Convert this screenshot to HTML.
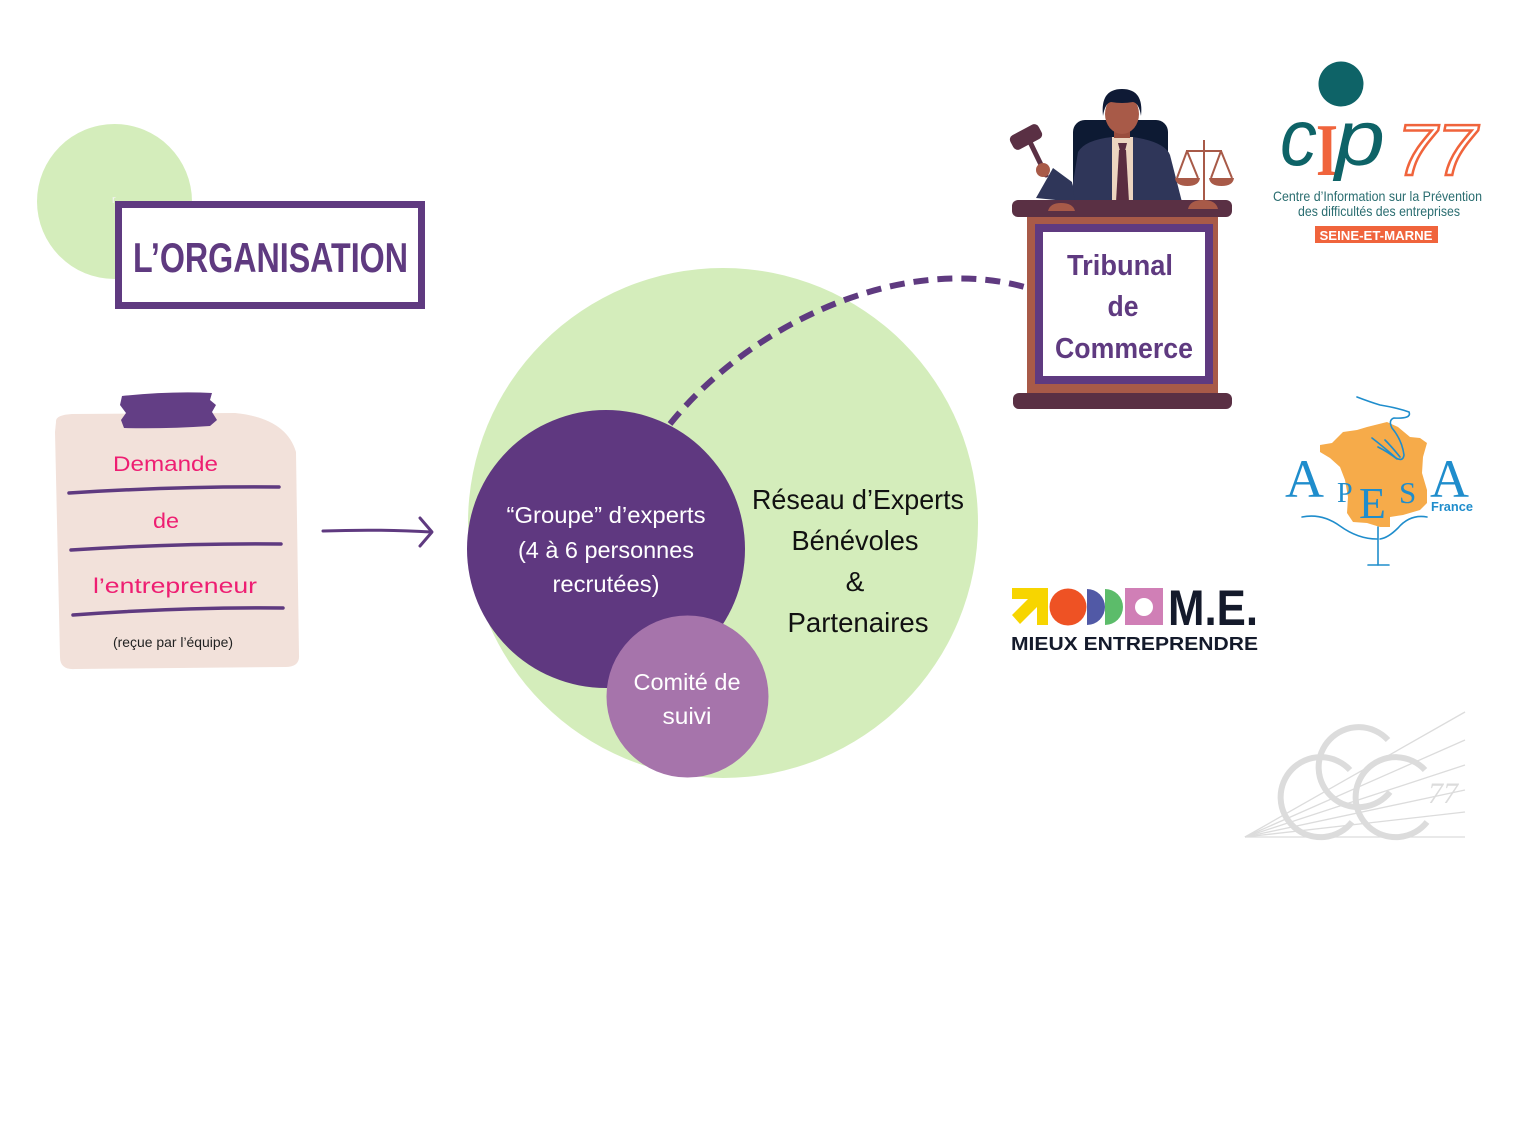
<!DOCTYPE html>
<html>
<head>
<meta charset="utf-8">
<style>
html,body{margin:0;padding:0;background:#fff;}
svg{display:block;}
text{font-family:"Liberation Sans",sans-serif;}
</style>
</head>
<body>
<svg width="1520" height="1122" viewBox="0 0 1520 1122" xmlns="http://www.w3.org/2000/svg">
<rect width="1520" height="1122" fill="#fff"/>

<!-- top-left green circle + title -->
<circle cx="114.5" cy="201.5" r="77.5" fill="#d4edbb"/>
<text x="112" y="203" font-size="11" fill="#f4f4f4">r</text>
<rect x="118.5" y="204.5" width="303" height="101" fill="#fff" stroke="#5f3a80" stroke-width="7"/>
<text x="133" y="272" font-size="42" font-weight="bold" fill="#5f3a80" textLength="275" lengthAdjust="spacingAndGlyphs">L’ORGANISATION</text>

<!-- note card -->
<path d="M56 422 Q55 415 72 414 L235 413 Q286 418 296 452 L299 655 Q300 667 285 667 L75 669 Q60 670 60 657 L55 432 Z" fill="#f2e1da"/>
<path d="M122 396 Q170 391 212 393 L210 400 L216 405 L212 412 L217 420 L210 426 Q165 429 124 428 L121 420 L126 413 L120 405 Z" fill="#633e85"/>
<text x="113" y="471" font-size="21" fill="#ee1e72" textLength="105" lengthAdjust="spacingAndGlyphs">Demande</text>
<path d="M69 493 Q180 486 279 487" fill="none" stroke="#5f3a80" stroke-width="3.5" stroke-linecap="round"/>
<text x="153" y="528" font-size="21" fill="#ee1e72" textLength="26" lengthAdjust="spacingAndGlyphs">de</text>
<path d="M71 550 Q180 543 281 544" fill="none" stroke="#5f3a80" stroke-width="3.5" stroke-linecap="round"/>
<text x="93" y="593" font-size="21" fill="#ee1e72" textLength="164" lengthAdjust="spacingAndGlyphs">l’entrepreneur</text>
<path d="M73 615 Q180 607 283 608" fill="none" stroke="#5f3a80" stroke-width="3.5" stroke-linecap="round"/>
<text x="113" y="647" font-size="14" fill="#222" textLength="120" lengthAdjust="spacingAndGlyphs">(reçue par l’équipe)</text>

<!-- arrow -->
<path d="M323 531 Q380 529 431 532" fill="none" stroke="#5f3a80" stroke-width="3" stroke-linecap="round"/>
<path d="M420 518 L432 532 L420 546" fill="none" stroke="#5f3a80" stroke-width="3" stroke-linecap="round" stroke-linejoin="round"/>

<!-- main circles -->
<circle cx="723" cy="523" r="255" fill="#d4edbb"/>
<path d="M670 424 C752 322 905 252 1028 288" fill="none" stroke="#5f3a80" stroke-width="6" stroke-dasharray="15 9"/>
<circle cx="606" cy="549" r="139" fill="#5f3880"/>
<circle cx="687.5" cy="696.5" r="81" fill="#a674ab"/>

<text x="606" y="523" font-size="23" fill="#fff" text-anchor="middle" textLength="199" lengthAdjust="spacingAndGlyphs">“Groupe” d’experts</text>
<text x="606" y="558" font-size="23" fill="#fff" text-anchor="middle" textLength="176" lengthAdjust="spacingAndGlyphs">(4 à 6 personnes</text>
<text x="606" y="592" font-size="23" fill="#fff" text-anchor="middle" textLength="107" lengthAdjust="spacingAndGlyphs">recrutées)</text>

<text x="687" y="690" font-size="23" fill="#fff" text-anchor="middle" textLength="107" lengthAdjust="spacingAndGlyphs">Comité de</text>
<text x="687" y="724" font-size="23" fill="#fff" text-anchor="middle" textLength="49" lengthAdjust="spacingAndGlyphs">suivi</text>

<text x="858" y="509" font-size="28" fill="#111" text-anchor="middle" textLength="212" lengthAdjust="spacingAndGlyphs">Réseau d’Experts</text>
<text x="855" y="550" font-size="28" fill="#111" text-anchor="middle" textLength="127" lengthAdjust="spacingAndGlyphs">Bénévoles</text>
<text x="855" y="591" font-size="28" fill="#111" text-anchor="middle">&amp;</text>
<text x="858" y="632" font-size="28" fill="#111" text-anchor="middle" textLength="141" lengthAdjust="spacingAndGlyphs">Partenaires</text>

<!-- judge -->
<rect x="1073" y="120" width="95" height="88" rx="12" fill="#0d1a33"/>
<path d="M1070 202 L1078 152 Q1085 140 1112 137 L1133 137 Q1165 142 1170 155 L1182 202 Z" fill="#2f3659"/>
<rect x="1112" y="137" width="21" height="65" fill="#ecd5c0"/>
<path d="M1119 150 L1126 150 L1129 202 L1116 202 Z" fill="#5a2d40"/>
<path d="M1118 143 L1127 143 L1125 151 L1120 151 Z" fill="#5a2d40"/>
<rect x="1114" y="127" width="16" height="11" fill="#9a4e3e"/>
<ellipse cx="1122" cy="114" rx="17" ry="20" fill="#a85a48"/>
<path d="M1103 116 Q1100 89 1122 89 Q1144 89 1141 116 Q1139 103 1133 102 Q1122 104 1111 102 Q1105 103 1103 116 Z" fill="#0f1a35"/>
<line x1="1030" y1="142" x2="1046" y2="175" stroke="#5a3044" stroke-width="5" stroke-linecap="round"/>
<rect x="1010" y="129" width="32" height="16" rx="5" fill="#5a3044" transform="rotate(-28 1026 137)"/>
<path d="M1036 198 L1053 168 L1072 182 L1075 202 Z" fill="#2f3659"/>
<circle cx="1043" cy="170" r="7" fill="#a85a48"/>
<g stroke="#a85a48" stroke-width="2" fill="none">
<line x1="1204" y1="140" x2="1204" y2="203"/>
<line x1="1186" y1="151" x2="1222" y2="151"/>
<path d="M1187 151 L1177 178 M1187 151 L1198 178 M1221 151 L1211 178 M1221 151 L1232 178"/>
</g>
<path d="M1175 178 L1200 178 Q1199 186 1187.5 186 Q1176 186 1175 178 Z" fill="#a85a48"/>
<path d="M1209 178 L1234 178 Q1233 186 1221.5 186 Q1210 186 1209 178 Z" fill="#a85a48"/>
<rect x="1012" y="200" width="220" height="17" rx="6" fill="#5a3044"/>
<path d="M1048 211 Q1050 203 1061 203 Q1073 203 1075 211 Z" fill="#a85a48"/>
<path d="M1188 209 Q1190 200 1203 200 Q1216 200 1218 209 Z" fill="#a85a48"/>
<rect x="1027" y="217" width="191" height="178" fill="#a85a48"/>
<rect x="1035" y="224" width="178" height="160" fill="#5f3a80"/>
<rect x="1043" y="232" width="162" height="144" fill="#fff"/>
<rect x="1013" y="393" width="219" height="16" rx="6" fill="#5a3044"/>
<text x="1120" y="275" font-size="29" font-weight="bold" fill="#5f3a80" text-anchor="middle" textLength="106" lengthAdjust="spacingAndGlyphs">Tribunal</text>
<text x="1123" y="316" font-size="29" font-weight="bold" fill="#5f3a80" text-anchor="middle" textLength="31" lengthAdjust="spacingAndGlyphs">de</text>
<text x="1124" y="358" font-size="29" font-weight="bold" fill="#5f3a80" text-anchor="middle" textLength="138" lengthAdjust="spacingAndGlyphs">Commerce</text>

<!-- CIP 77 -->
<circle cx="1341" cy="84" r="22.5" fill="#0e6367"/>
<text x="1280" y="165" font-size="80" font-style="italic" fill="#0e6367" textLength="37" lengthAdjust="spacingAndGlyphs">c</text>
<text x="1316" y="175" font-size="74" font-weight="bold" fill="#f0643c" textLength="22" lengthAdjust="spacingAndGlyphs" style="font-family:'Liberation Serif',serif">I</text>
<text x="1335" y="165" font-size="78" font-style="italic" fill="#0e6367" textLength="50" lengthAdjust="spacingAndGlyphs">p</text>
<text x="1397" y="175" font-size="72" font-style="italic" fill="#fff" stroke="#f0643c" stroke-width="2.5" textLength="80" lengthAdjust="spacingAndGlyphs">77</text>
<text x="1273" y="201" font-size="14" fill="#2a6d70" textLength="209" lengthAdjust="spacingAndGlyphs">Centre d’Information sur la Prévention</text>
<text x="1298" y="216" font-size="14" fill="#2a6d70" textLength="162" lengthAdjust="spacingAndGlyphs">des difficultés des entreprises</text>
<rect x="1315" y="226" width="123" height="17" fill="#f0643c"/>
<text x="1376" y="240" font-size="13" font-weight="bold" fill="#fff" text-anchor="middle" textLength="113" lengthAdjust="spacingAndGlyphs">SEINE-ET-MARNE</text>

<!-- APESA -->
<path d="M1320 445 L1332 443 L1343 432 L1357 430 L1367 427 L1387 422 L1398 427 L1410 437 L1420 438 L1427 443 L1423 457 L1422 473 L1427 490 L1427 503 L1420 510 L1403 515 L1390 517 L1390 527 L1380 527 L1367 523 L1353 522 L1347 513 L1348 497 L1345 480 L1340 467 L1330 458 L1320 452 Z" fill="#f6ab4a"/>
<g stroke="#1f8dcc" stroke-width="1.6" fill="none" stroke-linecap="round">
<path d="M1357 397 Q1370 402 1380 405 Q1398 408 1409 412 Q1412 419 1394 418 Q1388 420 1392 428 Q1402 440 1404 455 Q1403 462 1396 458 Q1385 448 1372 438"/>
<path d="M1397 459 Q1388 452 1378 447"/>
<path d="M1400 457 Q1392 447 1385 440"/>
<path d="M1302 517 Q1322 513 1340 526 Q1358 539 1377 539"/>
<path d="M1427 517 Q1410 514 1398 528 Q1388 538 1380 539"/>
<line x1="1378" y1="527" x2="1378" y2="565"/>
<line x1="1368" y1="565" x2="1389" y2="565"/>
</g>
<g fill="#1f8dcc">
<text x="1285" y="497" font-size="54" style="font-family:'Liberation Serif',serif">A</text>
<text x="1337" y="502" font-size="28" style="font-family:'Liberation Serif',serif">P</text>
<text x="1359" y="518" font-size="44" style="font-family:'Liberation Serif',serif">E</text>
<text x="1399" y="503" font-size="31" style="font-family:'Liberation Serif',serif">S</text>
<text x="1430" y="497" font-size="54" style="font-family:'Liberation Serif',serif">A</text>
</g>
<text x="1431" y="511" font-size="13" font-weight="bold" fill="#1f8dcc" textLength="42" lengthAdjust="spacingAndGlyphs">France</text>

<!-- M.E. -->
<path d="M1012 588 L1048 588 L1048 625 L1037 625 L1037 607 L1020 624 L1012 615 L1028 599 L1012 599 Z" fill="#f7d500"/>
<circle cx="1068" cy="607" r="18.5" fill="#ee5224"/>
<path d="M1087 589 A18 18 0 0 1 1087 625 Z" fill="#5159a6"/>
<path d="M1105 589 A18 18 0 0 1 1105 625 Z" fill="#5cbc6a"/>
<rect x="1125" y="588" width="38" height="37" fill="#d07fb6"/>
<circle cx="1144" cy="607" r="9" fill="#fff"/>
<text x="1168" y="625" font-size="50" font-weight="bold" fill="#141a2b" textLength="90" lengthAdjust="spacingAndGlyphs">M.E.</text>
<text x="1011" y="650" font-size="18" font-weight="bold" fill="#141a2b" textLength="247" lengthAdjust="spacingAndGlyphs">MIEUX ENTREPRENDRE</text>

<!-- CCC77 -->
<g stroke="#dcdcdc" stroke-width="1.3" fill="none">
<line x1="1245" y1="837" x2="1465" y2="712"/>
<line x1="1245" y1="837" x2="1465" y2="740"/>
<line x1="1245" y1="837" x2="1465" y2="765"/>
<line x1="1245" y1="837" x2="1465" y2="790"/>
<line x1="1245" y1="837" x2="1465" y2="812"/>
<line x1="1245" y1="837" x2="1465" y2="837"/>
</g>
<g stroke="#dcdcdc" stroke-width="6" fill="none">
<path d="M1350 770 A40 40 0 1 0 1352 822"/>
<path d="M1388 740 A40 40 0 1 0 1390 792"/>
<path d="M1425 770 A40 40 0 1 0 1427 822"/>
</g>
<text x="1428" y="803" font-size="30" font-style="italic" fill="#dcdcdc" style="font-family:'Liberation Serif',serif">77</text>
</svg>
</body>
</html>
